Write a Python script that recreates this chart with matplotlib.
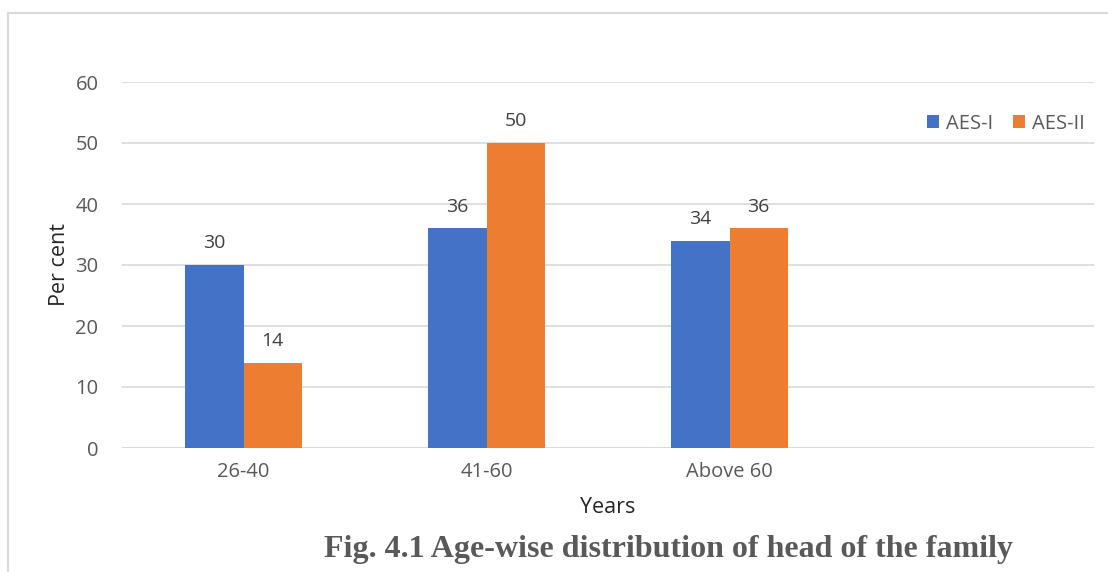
import matplotlib
matplotlib.use("Agg")
import matplotlib.pyplot as plt
import numpy as np
from matplotlib.lines import Line2D

categories = ["26-40", "41-60", "Above 60", ""]
aes1 = [30, 36, 34]
aes2 = [14, 50, 36]
series_names = ["AES-I", "AES-II"]
yticks = [0, 10, 20, 30, 40, 50, 60]

BLUE = "#4472C4"
ORANGE = "#ED7D31"
TXT = "#595959"
GRID = "#D9D9D9"

plt.rcParams['font.family'] = ['Open Sans', 'DejaVu Sans']

W, H = 1108, 572
fig = plt.figure(figsize=(W / 100, H / 100), dpi=100)

# frame lines of the chart area (top and left)
fig.add_artist(Line2D([8 / W, 8 / W], [0, 1 - 13 / H], transform=fig.transFigure, color=GRID, lw=1.5))
fig.add_artist(Line2D([8 / W, 1], [1 - 13 / H, 1 - 13 / H], transform=fig.transFigure, color=GRID, lw=1.5))

ax_l, ax_r, ax_b, ax_t = 122, 1094, 448, 82
ax = fig.add_axes([ax_l / W, 1 - ax_b / H, (ax_r - ax_l) / W, (ax_b - ax_t) / H])

n = len(categories)
x = np.arange(n)
bw = 0.239
ax.bar(x[:len(aes1)] - bw / 2, aes1, width=bw, color=BLUE, label=series_names[0], zorder=3)
ax.bar(x[:len(aes2)] + bw / 2, aes2, width=bw, color=ORANGE, label=series_names[1], zorder=3)

for xs, vals in ((x[:len(aes1)] - bw / 2, aes1), (x[:len(aes2)] + bw / 2, aes2)):
    for xi, v in zip(xs, vals):
        ax.annotate(str(v), (xi, v), xytext=(0, 9), textcoords="offset points", ha="center", va="bottom",
                    fontsize=14, color="#404040")

ax.set_xlim(-0.5, n - 0.5)
ax.set_ylim(0, 60)
ax.set_yticks(yticks)
ax.set_xticks(x)
ax.set_xticklabels(categories)
ax.yaxis.grid(True, color=GRID, lw=1.2, zorder=0)
for s in ax.spines.values():
    s.set_visible(False)
ax.tick_params(axis="both", length=0, labelsize=14.5, labelcolor=TXT)
ax.tick_params(axis="y", pad=17)
ax.tick_params(axis="x", pad=10)
ax.axhline(0, color=GRID, lw=1.2, zorder=1)

ax.set_xlabel("Years", fontsize=15.5, color="#262626", labelpad=11)
ax.set_ylabel("Per cent", fontsize=15.5, color="#262626", labelpad=4)

leg = ax.legend(loc="upper right", bbox_to_anchor=(0.999, 0.935), ncol=2, frameon=False, fontsize=14.5,
                handlelength=0.6, handleheight=0.6, handletextpad=0.35, columnspacing=1.0,
                borderaxespad=0)
for t in leg.get_texts():
    t.set_color(TXT)

fig.text(669 / W, 1 - 550 / H, "Fig. 4.1 Age-wise distribution of head of the family",
         ha="center", va="center", fontsize=23, fontweight="bold", color="#595959",
         family=["Liberation Serif", "DejaVu Serif"])

fig.savefig("out.png", dpi=100)
